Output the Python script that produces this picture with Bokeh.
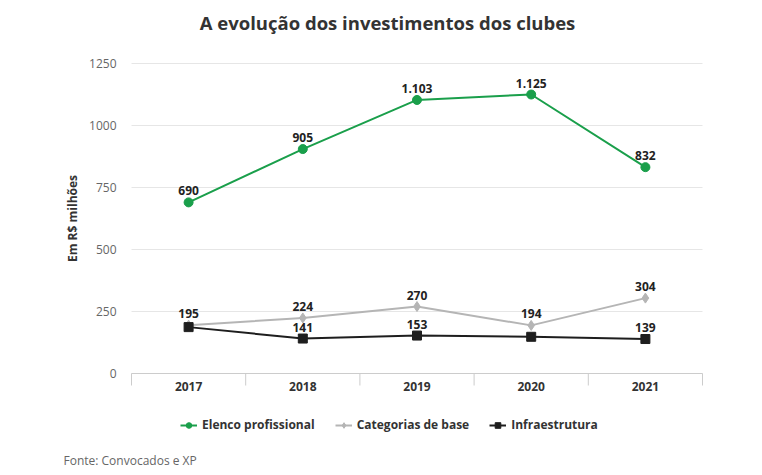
import math
from bokeh.plotting import figure
from bokeh.models import Range1d, ColumnDataSource, Legend, LegendItem
from bokeh.core.properties import value
from bokeh.embed import file_html
from bokeh.resources import INLINE

years = ["2017", "2018", "2019", "2020", "2021"]
elenco = [690, 905, 1103, 1125, 832]
elenco_labels = ["690", "905", "1.103", "1.125", "832"]
base = [195, 224, 270, 194, 304]
base_labels = ["195", "224", "270", "194", "304"]
infra = [187, 141, 153, 148, 139]
infra_labels = ["", "141", "153", "", "139"]
y_ticks = [0, 250, 500, 750, 1000, 1250]
y_tick_labels = [str(t) for t in y_ticks]

TITLE = "A evolução dos investimentos dos clubes"
Y_LABEL = "Em R$ milhões"
SOURCE = "Fonte: Convocados e XP"

FONT = "Open Sans"
GREEN = "#1a9f4b"
GRAY = "#b5b5b5"
BLACK = "#1e1e1e"

W, H = 746, 472
# plot area in pixels inside the canvas
PL, PR, PT, PB = 131, 702, 63, 373

n = len(years)
xs = list(range(n))
bounds = [i - 0.5 for i in range(n + 1)]
x_per_px = n / (PR - PL)
y_per_px = y_ticks[-1] / (PB - PT)
x_range = Range1d(-0.5 - PL * x_per_px, n - 0.5 + (W - PR) * x_per_px)
y_range = Range1d(-(H - PB) * y_per_px, y_ticks[-1] + PT * y_per_px)

p = figure(width=W, height=H, output_backend="svg", toolbar_location=None,
           x_range=x_range, y_range=y_range, x_axis_type=None, y_axis_type=None,
           min_border_left=0, min_border_right=0, min_border_top=0, min_border_bottom=0)
p.outline_line_color = None
p.background_fill_color = "white"
p.border_fill_color = "white"
p.grid.visible = False

txt = dict(text_font=value(FONT), text_font_size="12px")

# horizontal grid lines
p.segment(x0=[bounds[0]] * len(y_ticks), x1=[bounds[-1]] * len(y_ticks),
          y0=y_ticks, y1=y_ticks, line_color="#e6e6e6", line_width=1)
# y tick labels
p.text(x=[bounds[0]] * len(y_ticks), y=y_ticks, text=y_tick_labels, x_offset=-15,
       text_align="right", text_baseline="middle", text_color="#666666", **txt)
# y axis title
p.text(x=[bounds[0]], y=[(y_ticks[0] + y_ticks[-1]) / 2], text=[Y_LABEL], x_offset=-59,
       angle=math.pi / 2, text_align="center", text_baseline="middle",
       text_font_style="bold", text_color="#333333", **txt)

# category axis: baseline, boundary ticks and year labels
p.segment(x0=[bounds[0]], x1=[bounds[-1]], y0=[0], y1=[0], line_color="#cccccc", line_width=1)
p.ray(x=bounds, y=[0] * len(bounds), length=12, length_units="screen",
      angle=-math.pi / 2, line_color="#cccccc", line_width=1)
p.text(x=xs, y=[0] * n, text=years, text_align="center", text_baseline="top",
       y_offset=8, text_font_style="bold", text_color="#333333", **txt)

# title and source
p.text(x=[bounds[0]], y=[y_ticks[-1]], text=[TITLE], x_offset=256, y_offset=-41,
       text_align="center", text_baseline="middle", text_font=value(FONT),
       text_font_size="18.5px", text_font_style="bold", text_color="#333333")
p.text(x=[bounds[0]], y=[0], text=[SOURCE], x_offset=-68, y_offset=87,
       text_align="left", text_baseline="middle", text_color="#666666", **txt)

src_e = ColumnDataSource(dict(x=xs, y=elenco, lab=elenco_labels))
src_b = ColumnDataSource(dict(x=xs, y=base, lab=base_labels))
src_i = ColumnDataSource(dict(x=xs, y=infra, lab=infra_labels))

lb = p.line("x", "y", source=src_b, line_color=GRAY, line_width=2)
mb = p.scatter("x", "y", source=src_b, marker="diamond", size=10, color=GRAY)
li = p.line("x", "y", source=src_i, line_color=BLACK, line_width=2)
mi = p.scatter("x", "y", source=src_i, marker="square", size=9, color=BLACK)
le = p.line("x", "y", source=src_e, line_color=GREEN, line_width=2)
me = p.scatter("x", "y", source=src_e, marker="circle", size=9, color=GREEN)

for s in (src_e, src_b, src_i):
    p.text("x", "y", text="lab", source=s, text_align="center", text_baseline="bottom",
           y_offset=-7, text_font_style="bold", text_color="#222222", **txt)

legend = Legend(items=[
    LegendItem(label="Elenco profissional", renderers=[le, me]),
    LegendItem(label="Categorias de base", renderers=[lb, mb]),
    LegendItem(label="Infraestrutura", renderers=[li, mi]),
], orientation="horizontal", location=(180, H - 433))
legend.label_text_font = FONT
legend.label_text_font_size = "12px"
legend.label_text_font_style = "bold"
legend.label_text_color = "#333333"
legend.glyph_width = 17
legend.glyph_height = 14
legend.label_standoff = 5
legend.spacing = 20
legend.border_line_color = None
legend.background_fill_alpha = 0
legend.padding = 6
legend.margin = 0
p.add_layout(legend)

open("out.html", "w").write(file_html(p, INLINE))
